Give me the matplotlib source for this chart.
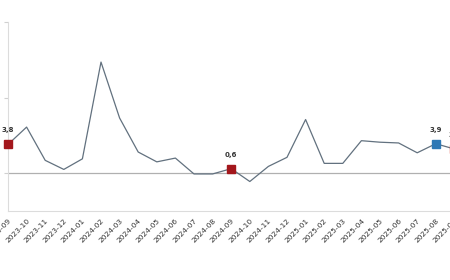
import matplotlib.pyplot as plt

# monthly change, %
months = ['2023-09', '2023-10', '2023-11', '2023-12', '2024-01', '2024-02',
          '2024-03', '2024-04', '2024-05', '2024-06', '2024-07', '2024-08',
          '2024-09', '2024-10', '2024-11', '2024-12', '2025-01', '2025-02',
          '2025-03', '2025-04', '2025-05', '2025-06', '2025-07', '2025-08',
          '2025-09']
values = [3.8, 6.1, 1.7, 0.5, 1.9, 14.7, 7.3, 2.8, 1.5, 2.0, -0.1, -0.1,
          0.6, -1.1, 0.9, 2.1, 7.1, 1.3, 1.3, 4.3, 4.1, 4.0, 2.7, 3.9, 3.2]

# highlighted points: index, colour
marks = [(0, '#a3171c'), (12, '#a3171c'), (23, '#2f79b5'), (24, '#e0453a')]

fig = plt.figure(figsize=(4.5, 2.8), dpi=100)
pxm = 18.6 / 450   # one month in figure fraction
ax = fig.add_axes([8 / 450, 69 / 280, 25 * pxm, 189 / 280])

x = list(range(len(months)))
ax.plot(x, values, color='#62717f', lw=0.9, zorder=2, clip_on=False)
ax.axhline(0, color='#b0b0b0', lw=0.9, zorder=1)

for i, c in marks:
    ax.plot(x[i], values[i], 's', ms=6.3, color=c, mec=c, zorder=3, clip_on=False)
    ax.annotate(f'{values[i]:.1f}'.replace('.', ','), (x[i], values[i]),
                xytext=(0, 8), textcoords='offset points', ha='center',
                va='bottom', fontsize=5, fontweight='bold', color='#333333',
                annotation_clip=False)

ax.set_xlim(0, 25)
ax.set_ylim(-5, 20)
ax.set_yticks([0, 10, 20])
ax.set_yticklabels([])
ax.tick_params(axis='y', length=3, color='#d0d0d0', width=0.8)
ax.set_xticks(x)
ax.set_xticklabels(months, rotation=45, ha='right', rotation_mode='anchor',
                   fontsize=5.4, color='#333333')
ax.tick_params(axis='x', length=0, pad=5)

for s in ['top', 'right']:
    ax.spines[s].set_visible(False)
for s in ['left', 'bottom']:
    ax.spines[s].set_color('#dcdcdc')
    ax.spines[s].set_linewidth(0.8)

fig.savefig('out.png', dpi=100)
